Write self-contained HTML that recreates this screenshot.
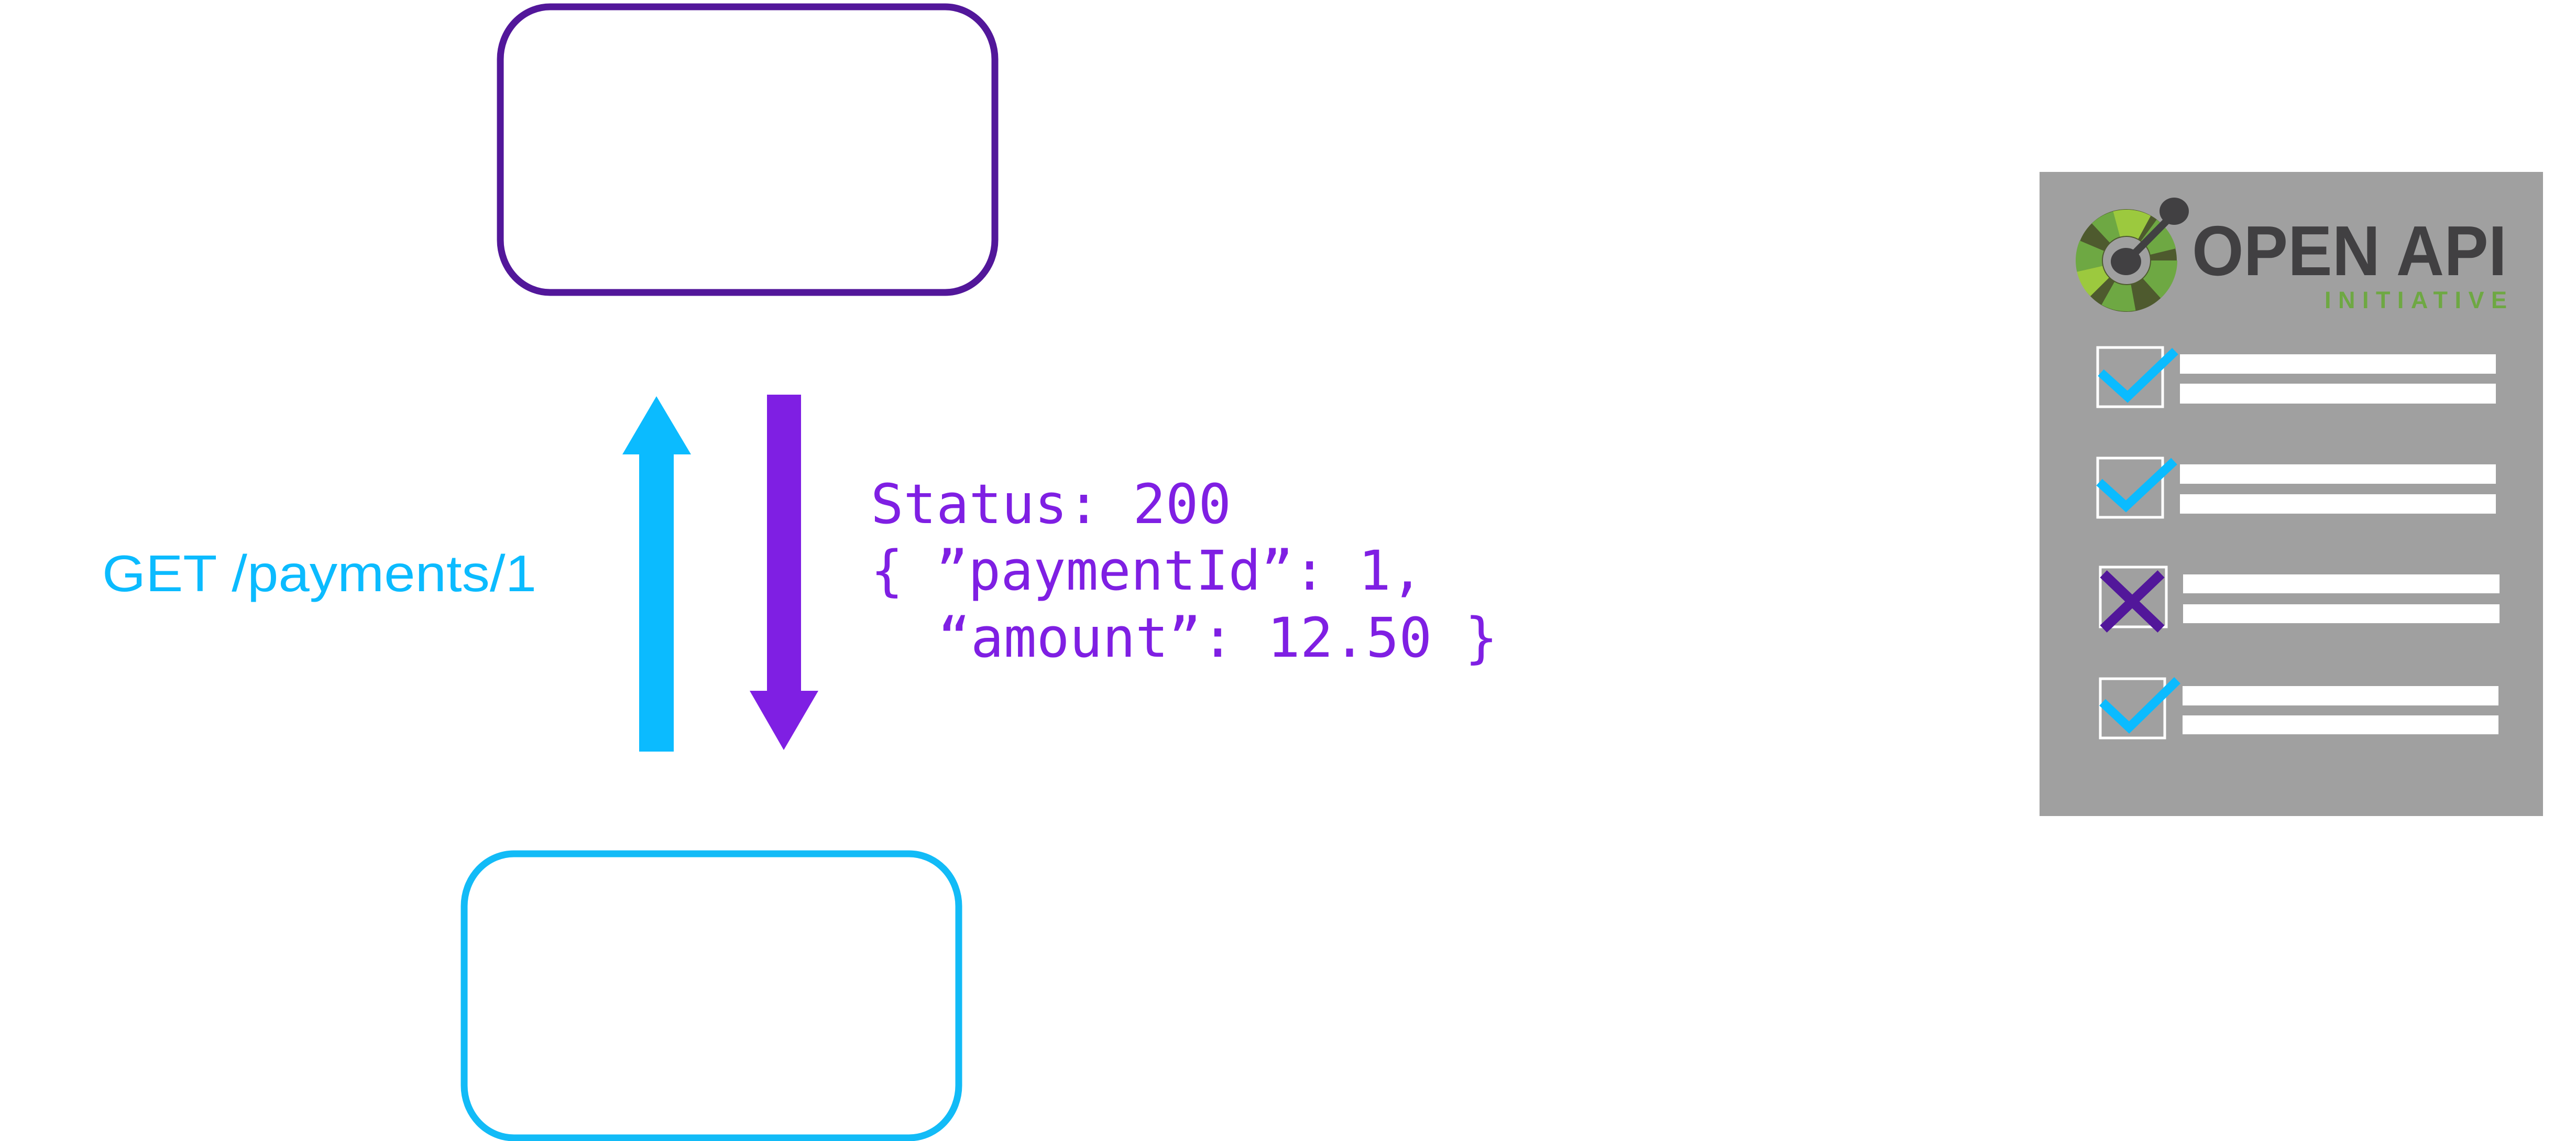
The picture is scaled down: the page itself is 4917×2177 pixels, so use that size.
<!DOCTYPE html>
<html><head><meta charset="utf-8"><style>
html,body{margin:0;padding:0;background:#fff;}
svg{display:block;}
</style></head><body>
<svg width="4917" height="2177" viewBox="0 0 4917 2177" xmlns="http://www.w3.org/2000/svg">
<rect width="4917" height="2177" fill="#fff"/>
<!-- top box -->
<rect x="955" y="13" width="944" height="545" rx="95" ry="100" fill="none" stroke="#52179a" stroke-width="13"/>
<!-- bottom box -->
<rect x="886" y="1629" width="944" height="542" rx="95" ry="100" fill="none" stroke="#12bbf7" stroke-width="13"/>
<!-- blue arrow up -->
<rect x="1220" y="860" width="66" height="574" fill="#0bbbff"/>
<polygon points="1253,756 1188,867 1319,867" fill="#0bbbff"/>
<!-- purple arrow down -->
<rect x="1464" y="753" width="65" height="570" fill="#7f1fe3"/>
<polygon points="1496,1431 1431,1318 1562,1318" fill="#7f1fe3"/>
<!-- labels -->
<text x="195" y="1128" font-family="Liberation Sans, sans-serif" font-size="98" fill="#0bbbff" textLength="829" lengthAdjust="spacingAndGlyphs">GET /payments/1</text>
<g font-family="DejaVu Sans Mono, Liberation Mono, monospace" font-size="104" fill="#7f1fe3">
<text x="1662" y="998" textLength="688" lengthAdjust="spacingAndGlyphs">Status: 200</text>
<text x="1662" y="1125" textLength="1055" lengthAdjust="spacingAndGlyphs">{ ”paymentId”: 1,</text>
<text x="1790" y="1253" textLength="1069" lengthAdjust="spacingAndGlyphs">“amount”: 12.50 }</text>
</g>
<!-- panel -->
<rect x="3893" y="328" width="961" height="1229" fill="#a0a0a0"/>
<!-- logo -->
<g transform="translate(4059,497)">
<ellipse cx="0" cy="0" rx="96" ry="98" fill="#4e5a2e"/>
<circle r="72" fill="none" stroke="#6ea843" stroke-width="50" stroke-dasharray="60 40 50 60 45 30" />
<circle r="72" fill="none" stroke="#9cc93e" stroke-width="50" stroke-dasharray="40 110 55 250" stroke-dashoffset="-170"/>
<circle r="45" fill="#a0a0a0"/>
</g>
<line x1="4059" y1="499" x2="4152" y2="405" stroke="#414042" stroke-width="14"/>
<ellipse cx="4150" cy="403" rx="28" ry="26" fill="#414042"/>
<ellipse cx="4058" cy="499" rx="29" ry="26" fill="#414042"/>
<text x="4184" y="525" font-family="Liberation Sans, sans-serif" font-weight="bold" font-size="135" fill="#414042" textLength="601" lengthAdjust="spacingAndGlyphs">OPEN API</text>
<text x="4437" y="588" font-family="Liberation Sans, sans-serif" font-weight="bold" font-size="45" fill="#6ea843" textLength="348" lengthAdjust="spacing">INITIATIVE</text>
<!-- rows -->
<g fill="none" stroke="#fff" stroke-width="5">
<rect x="4004" y="663" width="124" height="113"/>
<rect x="4004" y="874" width="124" height="113"/>
<rect x="4009" y="1082" width="126" height="114"/>
<rect x="4009" y="1295" width="123" height="113"/>
</g>
<g fill="#fff">
<rect x="4161" y="676" width="603" height="37"/><rect x="4161" y="732" width="603" height="38"/>
<rect x="4161" y="886" width="603" height="37"/><rect x="4161" y="943" width="603" height="37"/>
<rect x="4167" y="1096" width="604" height="36"/><rect x="4167" y="1153" width="604" height="36"/>
<rect x="4166" y="1309" width="603" height="37"/><rect x="4166" y="1365" width="603" height="36"/>
</g>
<g fill="none" stroke="#0bbbff" stroke-width="17">
<polyline points="4010,711 4061,757 4152,670"/>
<polyline points="4007,920 4058,966 4150,880"/>
<polyline points="4013,1340 4064,1388 4156,1298"/>
</g>
<g stroke="#52179a" stroke-width="19">
<line x1="4015" y1="1095" x2="4125" y2="1200"/>
<line x1="4015" y1="1200" x2="4125" y2="1095"/>
</g>
</svg>
</body></html>
